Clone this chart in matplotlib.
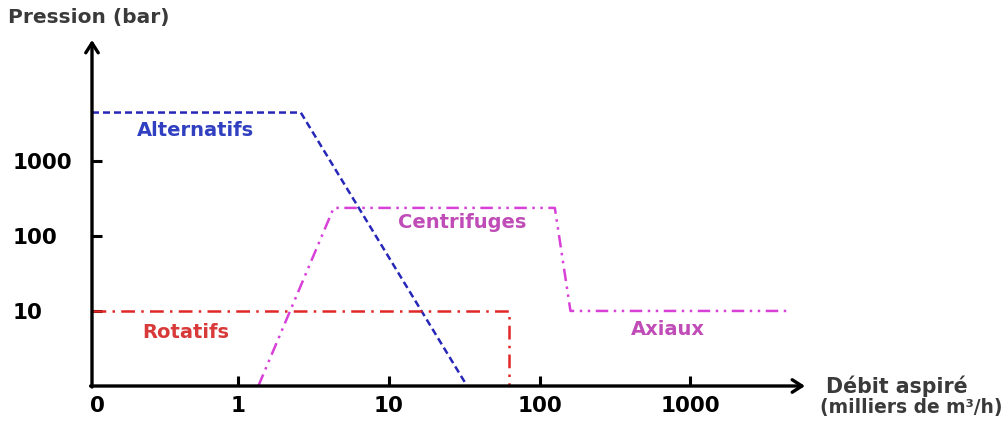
import numpy as np
import matplotlib.pyplot as plt
from matplotlib.ticker import FixedLocator, FixedFormatter, NullFormatter

# axis limits (log scales)
x_min, x_max = 10 ** -0.97, 10 ** 3.76
y_min, y_max = 1, 10 ** 4.61

# tick values / labels
x_ticks = [1, 10, 100, 1000]
x_tick_labels = ['1', '10', '100', '1000']
x_zero = 0.116
y_ticks = [10, 100, 1000]
y_tick_labels = ['10', '100', '1000']

# compressor families (debit in milliers de m3/h, pression in bar)
alt_x = [x_min, 2.6, 33]
alt_y = [4400, 4400, 1]

rot_x = [x_min, 63, 63]
rot_y = [10, 10, 1]

cen_x = [1.36, 4.3, 126, 160, 4600]
cen_y = [1, 236, 236, 10, 10]

blue = '#2626b8'
red = '#e02626'
mag = '#d840d8'

fig = plt.figure(figsize=(10.07, 4.26), dpi=100)
ax = fig.add_axes([92 / 1007, 40 / 426, 713 / 1007, 346 / 426])
ax.set_xscale('log')
ax.set_yscale('log')
ax.set_xlim(x_min, x_max)
ax.set_ylim(y_min, y_max)

ax.plot(alt_x, alt_y, color=blue, lw=1.8, dashes=(2.8, 1.6), clip_on=False)
ax.plot(rot_x, rot_y, color=red, lw=1.8, dashes=(5.5, 2.5, 1, 2.5), clip_on=False)
ax.plot(cen_x, cen_y, color=mag, lw=1.8, dashes=(5, 2.2, 1, 2.2, 1, 2.2), clip_on=False)

lab = dict(fontsize=14, fontweight='bold', ha='center', va='center')
ax.text(0.52, 2500, 'Alternatifs', color='#3040c0', **lab)
ax.text(30.6, 149, 'Centrifuges', color='#c04cb8', **lab)
ax.text(0.45, 5.2, 'Rotatifs', color='#d83a3a', **lab)
ax.text(705, 5.6, 'Axiaux', color='#c04cb8', **lab)

# axes drawn as arrows
for s in ax.spines.values():
    s.set_visible(False)
arr = dict(arrowstyle='->,head_length=0.7,head_width=0.45', lw=2.4, color='black',
           shrinkA=0, shrinkB=0)
ax.annotate('', xy=(1, 0), xytext=(-0.002, 0), xycoords='axes fraction',
            arrowprops=arr, annotation_clip=False)
ax.annotate('', xy=(0, 1), xytext=(0, -0.003), xycoords='axes fraction',
            arrowprops=arr, annotation_clip=False)

ax.xaxis.set_major_locator(FixedLocator(x_ticks))
ax.xaxis.set_major_formatter(FixedFormatter(x_tick_labels))
ax.xaxis.set_minor_locator(FixedLocator([x_zero]))
ax.xaxis.set_minor_formatter(FixedFormatter(['0']))
ax.yaxis.set_major_locator(FixedLocator(y_ticks))
ax.yaxis.set_major_formatter(FixedFormatter(y_tick_labels))
ax.yaxis.set_minor_locator(FixedLocator([]))
ax.yaxis.set_minor_formatter(NullFormatter())

ax.tick_params(axis='both', which='major', direction='in', length=7, width=2.2,
               labelsize=15.5)
ax.tick_params(axis='x', which='minor', length=0, labelsize=15.5, pad=7)
ax.tick_params(axis='x', which='major', pad=7)
ax.tick_params(axis='y', which='major', pad=57)
for t in ax.get_xticklabels(which='both'):
    t.set_fontweight('bold')
for t in ax.get_yticklabels():
    t.set_fontweight('bold')
    t.set_horizontalalignment('left')

fig.text(8 / 1007, 1 - 17 / 426, 'Pression (bar)', fontsize=14.5, fontweight='bold',
         color='#3a3a3a', ha='left', va='center')
fig.text(826 / 1007, 40 / 426, 'Débit aspiré', fontsize=14.8, fontweight='bold',
         color='#3a3a3a', ha='left', va='center')
fig.text(820 / 1007, 18 / 426, '(milliers de m³/h)', fontsize=13.4, fontweight='bold',
         color='#3a3a3a', ha='left', va='center')

fig.savefig('out.png', dpi=100)
